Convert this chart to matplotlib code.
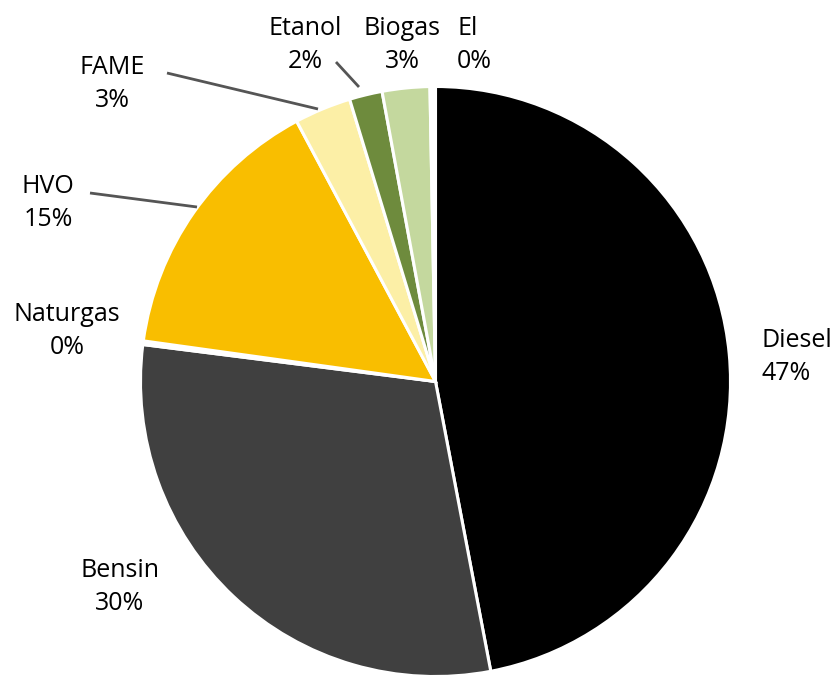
import matplotlib.pyplot as plt

plt.rcParams['font.family'] = ['Open Sans', 'DejaVu Sans']

# Data (clockwise from 12 o'clock)
fuels = ["Diesel", "Bensin", "Naturgas", "HVO", "FAME", "Etanol", "Biogas", "El"]
shares = [47.0, 30.0, 0.2, 15.0, 3.1, 1.8, 2.6, 0.3]
share_labels = ["47%", "30%", "0%", "15%", "3%", "2%", "3%", "0%"]
colors = ["#000000", "#404040", "#ffffff", "#f9be00", "#fcefa6", "#6e8b3d", "#c4d89e", "#ffffff"]

W, H = 839, 677
fig = plt.figure(figsize=(W / 100, H / 100), dpi=100)
ax = fig.add_axes([0, 0, 1, 1])

cx, cy, r = 435.5, H - 381.5, 295
ax.pie(shares, colors=colors, startangle=90, counterclock=False,
       center=(cx, cy), radius=r, frame=True,
       wedgeprops=dict(edgecolor="white", linewidth=2.2))
ax.set_xlim(0, W); ax.set_ylim(0, H); ax.set_aspect("equal"); ax.axis("off")

# label placement (image px: x, y-center, alignment)
label_pos = {
    "Diesel": (762, 357, "left"),
    "Bensin": (120, 587, "center"),
    "Naturgas": (67, 331, "center"),
    "HVO": (48, 203, "center"),
    "FAME": (112, 84, "center"),
    "Etanol": (305, 45, "center"),
    "Biogas": (402, 45, "center"),
    "El": (457, 45, "left"),
}
for name, pct in zip(fuels, share_labels):
    x, y, ha = label_pos[name]
    ax.text(x, H - y, f"{name}\n{pct}", ha=ha, va="center", ma=ha,
            fontsize=18, color="#000000", linespacing=1.42, fontweight="medium")

# leader lines
leaders = [((167, 73), (318, 109)), ((90, 193), (197, 207)), ((336, 62), (359, 87))]
for (x0, y0), (x1, y1) in leaders:
    ax.plot([x0, x1], [H - y0, H - y1], color="#555555", lw=2.0, solid_capstyle="butt")

fig.savefig("out.png", dpi=100)
